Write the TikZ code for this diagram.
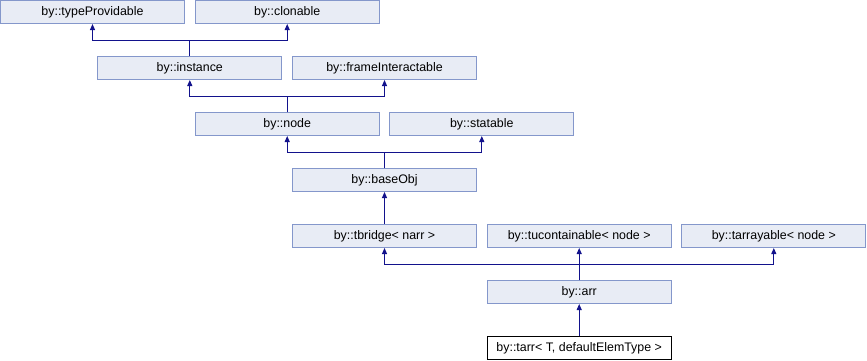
\documentclass[tikz,border=0pt]{standalone}
\usepackage{fontspec}
\setmainfont{Liberation Sans}
\usetikzlibrary{arrows.meta}
\definecolor{boxfill}{HTML}{E8ECF5}
\definecolor{boxline}{HTML}{8497CB}
\definecolor{linkcol}{HTML}{12128C}
\begin{document}
\begin{tikzpicture}[x=1pt,y=1pt,
        cls/.style={draw=boxline, fill=boxfill, line width=1pt, minimum width=184pt, minimum height=23pt, inner sep=0pt, font=\fontsize{12.4}{14}\selectfont},
        cur/.style={cls, draw=black, fill=white},
        inh/.style={draw=linkcol, line width=1pt, -{Triangle[length=6pt,width=5pt]}}]
        \useasboundingbox (0,0) rectangle (867,-360);
        %classi, riga per riga
            \node[cls] (typeProv) at (92.5,-12) {by::typeProvidable};
            \node[cls] (clonable) at (287.2,-12) {by::clonable};
            \node[cls] (instance) at (189.8,-68) {by::instance};
            \node[cls] (frameInt) at (384.5,-68) {by::frameInteractable};
            \node[cls] (node) at (287.2,-124) {by::node};
            \node[cls] (statable) at (481.8,-124) {by::statable};
            \node[cls] (baseObj) at (384.5,-180) {by::baseObj};
            \node[cls] (tbridge) at (384.5,-236) {by::tbridge< narr >};
            \node[cls] (tucont) at (579.2,-236) {by::tucontainable< node >};
            \node[cls] (tarrayable) at (773.8,-236) {by::tarrayable< node >};
            \node[cls] (arr) at (579.2,-292) {by::arr};
            \node[cur] (tarr) at (579.2,-348) {by::tarr< T, defaultElemType >};
        %ereditarieta
            \draw[inh] (instance.north) -- ++(0,16) -| (typeProv.south);
            \draw[inh] (instance.north) -- ++(0,16) -| (clonable.south);
            \draw[inh] (node.north) -- ++(0,16) -| (instance.south);
            \draw[inh] (node.north) -- ++(0,16) -| (frameInt.south);
            \draw[inh] (baseObj.north) -- ++(0,16) -| (node.south);
            \draw[inh] (baseObj.north) -- ++(0,16) -| (statable.south);
            \draw[inh] (tbridge.north) -- (baseObj.south);
            \draw[inh] (arr.north) -- ++(0,16) -| (tbridge.south);
            \draw[inh] (arr.north) -- (tucont.south);
            \draw[inh] (arr.north) -- ++(0,16) -| (tarrayable.south);
            \draw[inh] (tarr.north) -- (arr.south);
\end{tikzpicture}
\end{document}
